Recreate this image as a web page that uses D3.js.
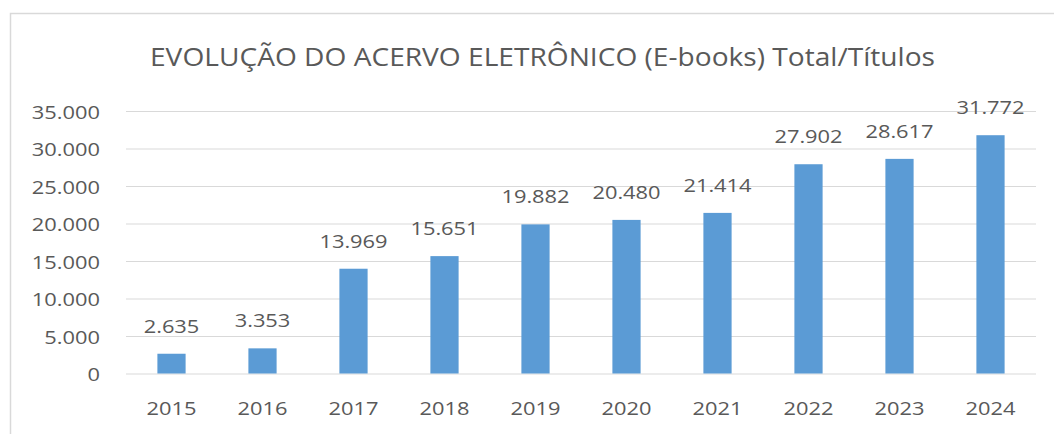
<!DOCTYPE html>
<html><head><meta charset="utf-8">
<script src="https://cdn.jsdelivr.net/npm/d3@7/dist/d3.min.js"></script>
<style>body{margin:0;background:#fff}svg{display:block}</style>
</head><body>
<svg id="c" width="1054" height="434"></svg>
<script>
const categories = ["2015","2016","2017","2018","2019","2020","2021","2022","2023","2024"];
const values = [2635,3353,13969,15651,19882,20480,21414,27902,28617,31772];
const yTicks = [0,5000,10000,15000,20000,25000,30000,35000];
const title = "EVOLUÇÃO DO ACERVO ELETRÔNICO (E-books) Total/Títulos";

const svg = d3.select("#c");
const W=1054,H=434;
const m={left:126,right:W-1036,top:111,bottom:H-373.5};
const fmt = d => d3.format(",")(d).replace(/,/g,".");
const x = d3.scaleBand().domain(categories).range([m.left, W-m.right]).paddingInner(0.69).paddingOuter(0.345);
const y = d3.scaleLinear().domain([0,35000]).range([H-m.bottom, m.top]);
const font = "'Open Sans', sans-serif";
const txt = "#595959";
const sx = 1.15;

// border
svg.append("path").attr("d",`M10.5,${H} V13.5 H${W}`).attr("fill","none").attr("stroke","#d9d9d9").attr("stroke-width",1.5);

// title
svg.append("text").attr("x",542.5).attr("y",66).attr("text-anchor","middle")
  .attr("font-family",font).attr("font-size",26).attr("fill",txt)
  .attr("textLength",785).attr("lengthAdjust","spacingAndGlyphs").text(title);

// grid
const yAxis = d3.axisLeft(y).tickValues(yTicks).tickSize(-(W-m.left-m.right)).tickFormat(fmt);
const gy = svg.append("g").attr("transform",`translate(${m.left},0)`).call(yAxis);
gy.select(".domain").remove();
gy.selectAll(".tick line").attr("stroke","#d9d9d9").attr("stroke-width",1.2);
gy.selectAll(".tick text").attr("x",0).attr("dy",null).attr("y",0)
  .attr("transform",`translate(-26,7) scale(${sx},1)`)
  .attr("font-family",font).attr("font-size",19).attr("fill",txt).attr("text-anchor","end");

// bars
svg.append("g").selectAll("rect").data(values).join("rect")
  .attr("x",(d,i)=>x(categories[i])).attr("width",x.bandwidth())
  .attr("y",d=>y(d)).attr("height",d=>y(0)-y(d)).attr("fill","#5b9bd5");

// labels
svg.append("g").selectAll("text").data(values).join("text")
  .attr("transform",(d,i)=>`translate(${x(categories[i])+x.bandwidth()/2},${y(d)-21}) scale(${sx},1)`)
  .attr("text-anchor","middle").attr("font-family",font).attr("font-size",19).attr("fill",txt)
  .text(fmt);

// x axis
const xAxis = d3.axisBottom(x).tickSize(0).tickPadding(0);
const gx = svg.append("g").attr("transform",`translate(0,${H-m.bottom})`).call(xAxis);
gx.select(".domain").remove();
gx.selectAll(".tick text").attr("y",0).attr("dy",null)
  .attr("transform",`translate(0,41.5) scale(${sx},1)`)
  .attr("font-family",font).attr("font-size",19).attr("fill",txt);
</script>
</body></html>
